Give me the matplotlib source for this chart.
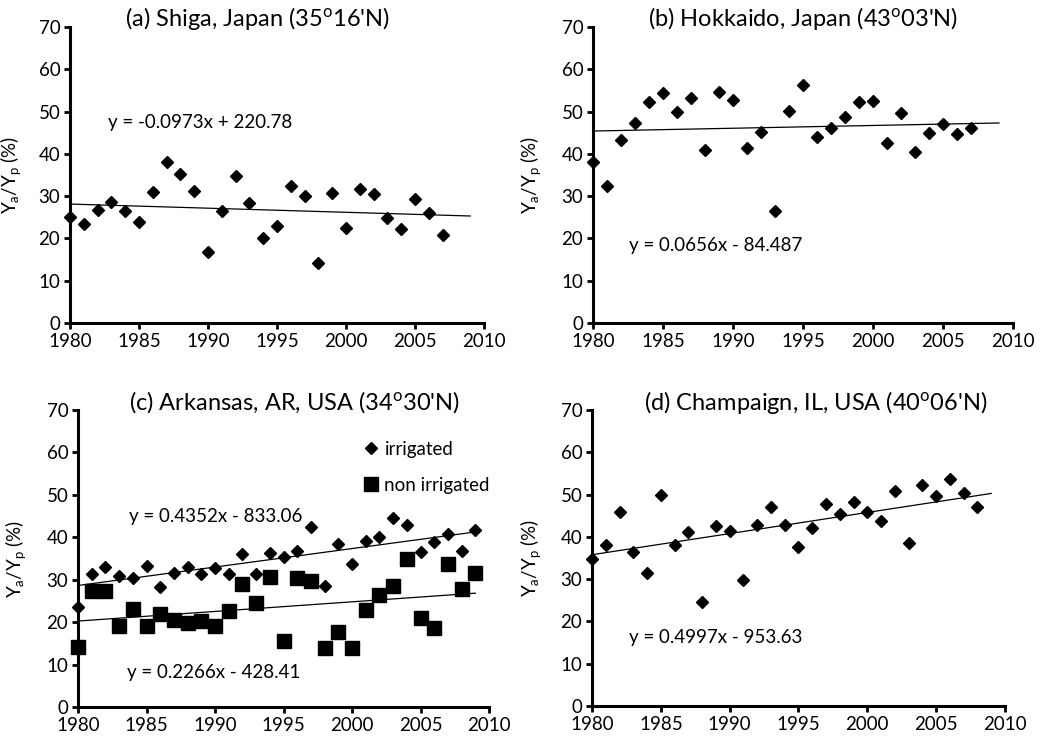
import numpy as np
import matplotlib
matplotlib.use("Agg")
import matplotlib.pyplot as plt

plt.rcParams['font.family'] = ['Lato', 'DejaVu Sans']
plt.rcParams['mathtext.fontset'] = 'custom'
plt.rcParams['mathtext.rm'] = 'Lato'

# (a) Shiga, 1980-2007
years_a = list(range(1980, 2008))
shiga = [25.0, 23.3, 26.7, 28.7, 26.6, 23.8, 31.0, 38.0, 35.2, 31.3, 16.9, 26.4, 34.8, 28.3,
         20.0, 23.0, 32.3, 30.1, 14.3, 30.8, 22.5, 31.7, 30.4, 24.9, 22.3, 29.3, 26.0, 20.9]

# (b) Hokkaido, 1980-2007
years_b = list(range(1980, 2008))
hokkaido = [38.0, 32.3, 43.3, 47.3, 52.3, 54.5, 49.8, 53.2, 41.0, 54.7, 52.8, 41.4, 45.1, 26.6,
            50.2, 56.2, 43.9, 46.1, 48.8, 52.3, 52.6, 42.6, 49.7, 40.5, 45.0, 47.1, 44.6, 46.0]

# (c) Arkansas, 1980-2009
years_c = list(range(1980, 2010))
ark_irr = [23.6, 31.3, 33.1, 30.9, 30.5, 33.3, 28.2, 31.6, 33.0, 31.3, 32.7, 31.3, 36.1, 31.3, 36.4,
           35.4, 36.8, 42.5, 28.5, 38.3, 33.7, 39.1, 40.0, 44.6, 43.0, 36.6, 38.9, 40.8, 36.8, 41.7]
ark_non = [14.2, 27.4, 27.3, 19.1, 23.0, 19.0, 22.0, 20.6, 19.9, 20.2, 19.0, 22.7, 29.1, 24.6, 30.7,
           15.6, 30.5, 29.8, 13.8, 17.7, 13.8, 22.8, 26.3, 28.5, 34.8, 20.9, 18.6, 33.6, 27.9, 31.6]

# (d) Champaign, 1980-2008
years_d = list(range(1980, 2009))
champaign = [34.8, 38.1, 45.9, 36.5, 31.4, 50.0, 38.1, 41.2, 24.5, 42.6, 41.4, 29.8, 42.8, 47.0, 42.8,
             37.7, 42.0, 47.8, 45.5, 48.3, 45.9, 43.7, 50.8, 38.5, 52.2, 49.6, 53.8, 50.4, 47.1]

# trend line coefficients (slope, intercept) as printed on the chart
fit_a = (-0.0973, 220.78)
fit_b = (0.0656, -84.487)
fit_c_irr = (0.4352, -833.06)
fit_c_non = (0.2266, -428.41)
fit_d = (0.4997, -953.63)

W, H = 1042, 746
TICK_FS = 13.5
EQ_FS = 13.5
TITLE_FS = 17
fig = plt.figure(figsize=(W / 100, H / 100), dpi=100)


def px_axes(left, right, top, bottom):
    return fig.add_axes([left / W, (H - bottom) / H, (right - left) / W, (bottom - top) / H])


def style(ax, left_px, ylab_px):
    ax.set_xlim(1980, 2010)
    ax.set_ylim(0, 70)
    ax.set_xticks(range(1980, 2011, 5))
    ax.set_yticks(range(0, 71, 10))
    for s in ['top', 'right']:
        ax.spines[s].set_visible(False)
    for s in ['left', 'bottom']:
        ax.spines[s].set_linewidth(2.2)
    ax.tick_params(direction='out', length=4, width=2, labelsize=TICK_FS, pad=3)
    ax.set_ylabel(r'$\mathregular{Y_a/Y_p}$ (%)', fontsize=TICK_FS)
    w = ax.get_position().width * W
    ax.yaxis.set_label_coords((ylab_px - left_px) / w, 0.5)


def trend(ax, fit):
    x = np.array([1980, 2009])
    ax.plot(x, fit[0] * x + fit[1], color='black', lw=0.9)


# (a)
ax = px_axes(70, 484, 27, 323)
ax.plot(years_a, shiga, 'D', color='black', ms=6.2, clip_on=False)
trend(ax, fit_a)
ax.text(1982.75, 47.3, 'y = -0.0973x + 220.78', fontsize=EQ_FS, va='center')
style(ax, 70, 23)
fig.text(257 / W, 1 - 18 / H, "(a) Shiga, Japan (35$\\mathregular{^o}$16'N)", fontsize=TITLE_FS,
         ha='center', va='center')

# (b)
ax = px_axes(593, 1013, 27, 323)
ax.plot(years_b, hokkaido, 'D', color='black', ms=6.2, clip_on=False)
trend(ax, fit_b)
ax.text(1982.6, 18.4, 'y = 0.0656x - 84.487', fontsize=EQ_FS, va='center')
style(ax, 593, 543)
fig.text(803 / W, 1 - 18 / H, "(b) Hokkaido, Japan (43$\\mathregular{^o}$03'N)", fontsize=TITLE_FS,
         ha='center', va='center')

# (c)
ax = px_axes(78, 489, 410, 707)
ax.plot(years_c, ark_irr, 'D', color='black', ms=6.2, clip_on=False, label='irrigated')
ax.plot(years_c, ark_non, 's', color='black', ms=10, clip_on=False, label='non irrigated')
trend(ax, fit_c_irr)
trend(ax, fit_c_non)
ax.text(1983.7, 44.8, 'y = 0.4352x - 833.06', fontsize=EQ_FS, va='center')
ax.text(1983.6, 8.2, 'y = 0.2266x - 428.41', fontsize=EQ_FS, va='center')
style(ax, 78, 28)
ax.legend(loc='upper left', bbox_to_anchor=(0.70, 0.896), frameon=False, fontsize=TICK_FS,
          handlelength=0.6, handletextpad=0.4, labelspacing=1.0, borderpad=0, borderaxespad=0,
          markerscale=1.0)
fig.text(294 / W, 1 - 402 / H, "(c) Arkansas, AR, USA (34$\\mathregular{^o}$30'N)", fontsize=TITLE_FS,
         ha='center', va='center')

# (d)
ax = px_axes(592, 1005, 410, 706)
ax.plot(years_d, champaign, 'D', color='black', ms=6.2, clip_on=False)
trend(ax, fit_d)
ax.text(1982.7, 16.3, 'y = 0.4997x - 953.63', fontsize=EQ_FS, va='center')
style(ax, 592, 543)
fig.text(816 / W, 1 - 402 / H, "(d) Champaign, IL, USA (40$\\mathregular{^o}$06'N)", fontsize=TITLE_FS,
         ha='center', va='center')

fig.savefig('out.png', dpi=100)
